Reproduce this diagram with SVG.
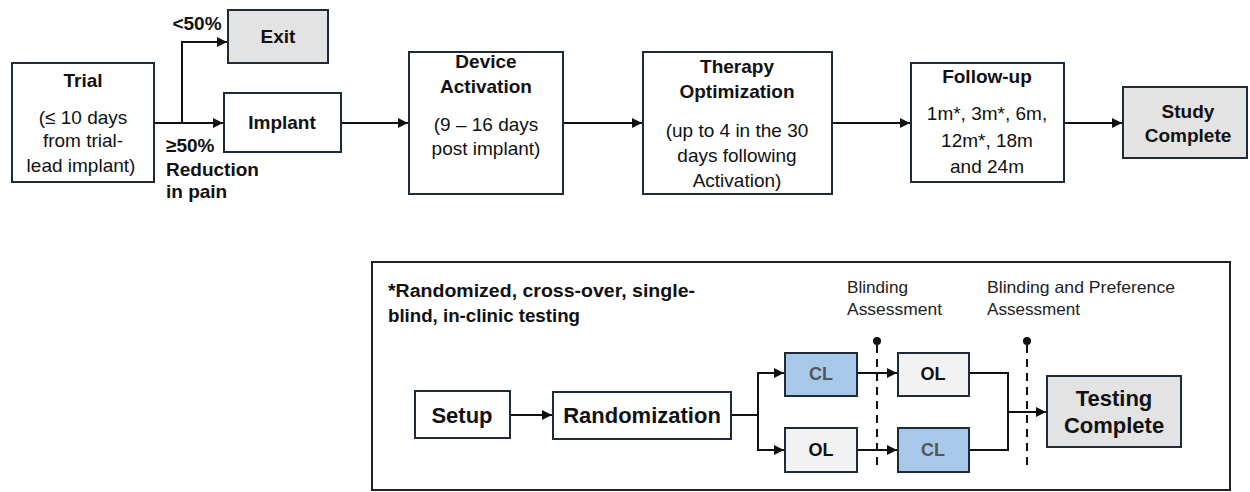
<svg xmlns="http://www.w3.org/2000/svg" width="1250" height="492" viewBox="0 0 1250 492">
<style>
.box{fill:#ffffff;stroke:#1e2b38;stroke-width:2}
.gray{fill:#e3e3e3;stroke:#1e2b38;stroke-width:2}
.light{fill:#f2f2f2;stroke:#1e2b38;stroke-width:2}
.blue{fill:#a8c8ea;stroke:#1e2b38;stroke-width:2}
.t{font-family:"Liberation Sans",Arial,sans-serif;font-size:19px;fill:#111;text-anchor:middle}
.b{font-weight:bold}
.tb{font-family:"Liberation Sans",Arial,sans-serif;font-size:22px;font-weight:bold;fill:#111;text-anchor:middle}
.s{font-family:"Liberation Sans",Arial,sans-serif;font-size:16.5px;fill:#222}
.note{font-family:"Liberation Sans",Arial,sans-serif;font-size:17.5px;font-weight:bold;fill:#111}
.cl{font-family:"Liberation Sans",Arial,sans-serif;font-size:18px;font-weight:bold;fill:#555;text-anchor:middle}
.ol{font-family:"Liberation Sans",Arial,sans-serif;font-size:18px;font-weight:bold;fill:#111;text-anchor:middle}
.line{fill:none;stroke:#111;stroke-width:2}
.dash{fill:none;stroke:#111;stroke-width:2;stroke-dasharray:8,6}
</style>
<defs>
<marker id="arr" viewBox="0 0 10 10" refX="10" refY="5" markerWidth="5" markerHeight="5" orient="auto" markerUnits="strokeWidth">
<path d="M0,0 L10,5 L0,10 z" fill="#111"/>
</marker>
</defs>
<rect width="1250" height="492" fill="#ffffff"/>

<g id="connectors">
<path class="line" d="M154,123 H223" marker-end="url(#arr)"/>
<path class="line" d="M182,123 V42 H227" marker-end="url(#arr)"/>
<path class="line" d="M341,123 H408" marker-end="url(#arr)"/>
<path class="line" d="M563,123 H642" marker-end="url(#arr)"/>
<path class="line" d="M832,123 H910" marker-end="url(#arr)"/>
<path class="line" d="M1064,123 H1122" marker-end="url(#arr)"/>
<path class="line" d="M510,415 H552" marker-end="url(#arr)"/>
<path class="line" d="M731,415 H758 V373 H784" marker-end="url(#arr)"/>
<path class="line" d="M758,415 V450 H784" marker-end="url(#arr)"/>
<path class="line" d="M857,373 H897" marker-end="url(#arr)"/>
<path class="line" d="M857,450 H897" marker-end="url(#arr)"/>
<path class="line" d="M969,373 H1008 V450 H969"/>
<path class="line" d="M1008,412 H1046" marker-end="url(#arr)"/>
<path class="dash" d="M877,345 V470"/>
<circle cx="877" cy="341" r="4" fill="#111"/>
<path class="dash" d="M1027,345 V470"/>
<circle cx="1027" cy="341" r="4" fill="#111"/>
</g>

<g id="labels">
<text class="t b" x="197" y="30">&lt;50%</text>
<text class="t b" x="166" y="152" style="text-anchor:start">≥50%</text>
<text class="t b" x="166" y="176" style="text-anchor:start">Reduction</text>
<text class="t b" x="166" y="198" style="text-anchor:start">in pain</text>
</g>

<g id="trial">
<rect class="box" x="12" y="63" width="142" height="119"/>
<text class="t b" x="83" y="87">Trial</text>
<text class="t" x="83" y="124">(≤ 10 days</text>
<text class="t" x="83" y="147">from trial-</text>
<text class="t" x="81" y="172">lead implant)</text>
</g>

<g id="exit">
<rect class="gray" x="228" y="10" width="100" height="53"/>
<text class="t b" x="278" y="43">Exit</text>
</g>

<g id="implant">
<rect class="box" x="224" y="93" width="117" height="59"/>
<text class="t b" x="282" y="129">Implant</text>
</g>

<g id="device">
<rect class="box" x="409" y="52" width="154" height="142"/>
<text class="t b" x="486" y="68">Device</text>
<text class="t b" x="486" y="93">Activation</text>
<text class="t" x="486" y="131">(9 – 16 days</text>
<text class="t" x="486" y="155">post implant)</text>
</g>

<g id="therapy">
<rect class="box" x="643" y="52" width="189" height="142"/>
<text class="t b" x="737" y="73">Therapy</text>
<text class="t b" x="737" y="98">Optimization</text>
<text class="t" x="737" y="137">(up to 4 in the 30</text>
<text class="t" x="737" y="162">days following</text>
<text class="t" x="737" y="187">Activation)</text>
</g>

<g id="followup">
<rect class="box" x="911" y="63" width="153" height="119"/>
<text class="t b" x="987" y="83">Follow-up</text>
<text class="t" x="987" y="120">1m*, 3m*, 6m,</text>
<text class="t" x="987" y="147">12m*, 18m</text>
<text class="t" x="987" y="173">and 24m</text>
</g>

<g id="study">
<rect class="gray" x="1123" y="87" width="124" height="71"/>
<text class="t b" x="1188" y="118">Study</text>
<text class="t b" x="1188" y="142">Complete</text>
</g>

<g id="testing-panel">
<rect x="372" y="262" width="858" height="228" fill="none" stroke="#222" stroke-width="2"/>
<text class="note" x="388" y="297" textLength="307" lengthAdjust="spacingAndGlyphs">*Randomized, cross-over, single-</text>
<text class="note" x="388" y="322" textLength="192" lengthAdjust="spacingAndGlyphs">blind, in-clinic testing</text>
<text class="s" x="847" y="293" textLength="61" lengthAdjust="spacingAndGlyphs">Blinding</text>
<text class="s" x="847" y="315" textLength="95" lengthAdjust="spacingAndGlyphs">Assessment</text>
<text class="s" x="987" y="293" textLength="188" lengthAdjust="spacingAndGlyphs">Blinding and Preference</text>
<text class="s" x="987" y="315" textLength="93" lengthAdjust="spacingAndGlyphs">Assessment</text>
</g>

<g id="setup">
<rect class="box" x="415" y="391" width="95" height="47"/>
<text class="tb" x="462" y="423">Setup</text>
</g>

<g id="randomization">
<rect class="box" x="553" y="392" width="178" height="47"/>
<text class="tb" x="642" y="423">Randomization</text>
</g>

<g id="cl-top">
<rect class="blue" x="785" y="353" width="72" height="43"/>
<text class="cl" x="821" y="380">CL</text>
</g>

<g id="ol-bottom">
<rect class="light" x="785" y="428" width="72" height="44"/>
<text class="ol" x="821" y="456">OL</text>
</g>

<g id="ol-top">
<rect class="light" x="898" y="353" width="71" height="43"/>
<text class="ol" x="933" y="380">OL</text>
</g>

<g id="cl-bottom">
<rect class="blue" x="898" y="428" width="71" height="44"/>
<text class="cl" x="933" y="456">CL</text>
</g>

<g id="testing-complete">
<rect class="gray" x="1047" y="376" width="134" height="71"/>
<text class="tb" x="1114" y="406">Testing</text>
<text class="tb" x="1114" y="433">Complete</text>
</g>
</svg>
